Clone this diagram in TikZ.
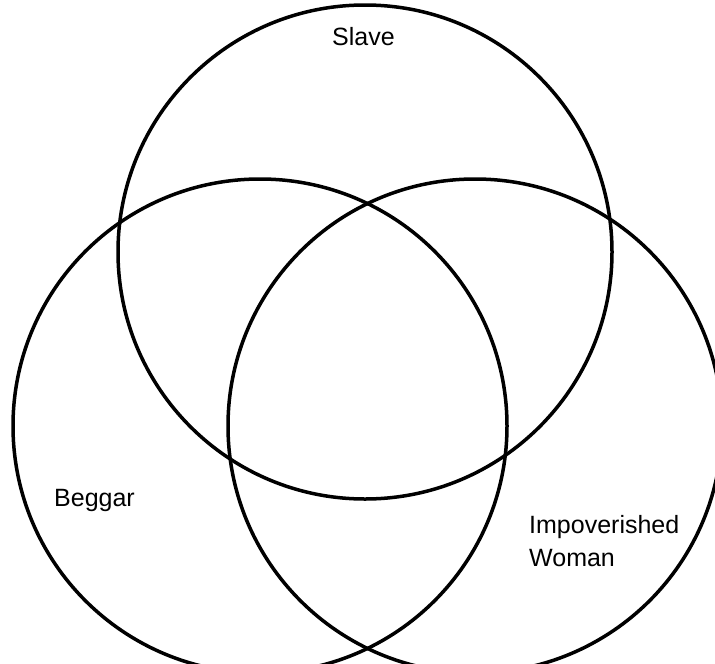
\documentclass[tikz,border=0pt]{standalone}
\usepackage{fontspec}
\setmainfont{Liberation Sans}
\begin{document}
\begin{tikzpicture}[x=1pt,y=-1pt,
  ring/.style={draw=black, line width=3.5pt, circle, minimum size=494pt, inner sep=0pt},
  lbl/.style={inner sep=0pt, anchor=base west, font=\fontsize{25}{30}\selectfont}]
\useasboundingbox (0,0) rectangle (715,664);
\clip (0,0) rectangle (715,664);
\node[ring] (slave) at (365,252) {};
\node[ring] (beggar) at (260,426) {};
\node[ring] (woman) at (475,426) {};
\node[lbl] (tslave) at (332,45) {Slave};
\node[lbl] (tbeggar) at (54,506) {Beggar};
\node[lbl] (timp) at (529,533) {Impoverished};
\node[lbl] (twoman) at (529,566) {Woman};
\end{tikzpicture}
\end{document}
